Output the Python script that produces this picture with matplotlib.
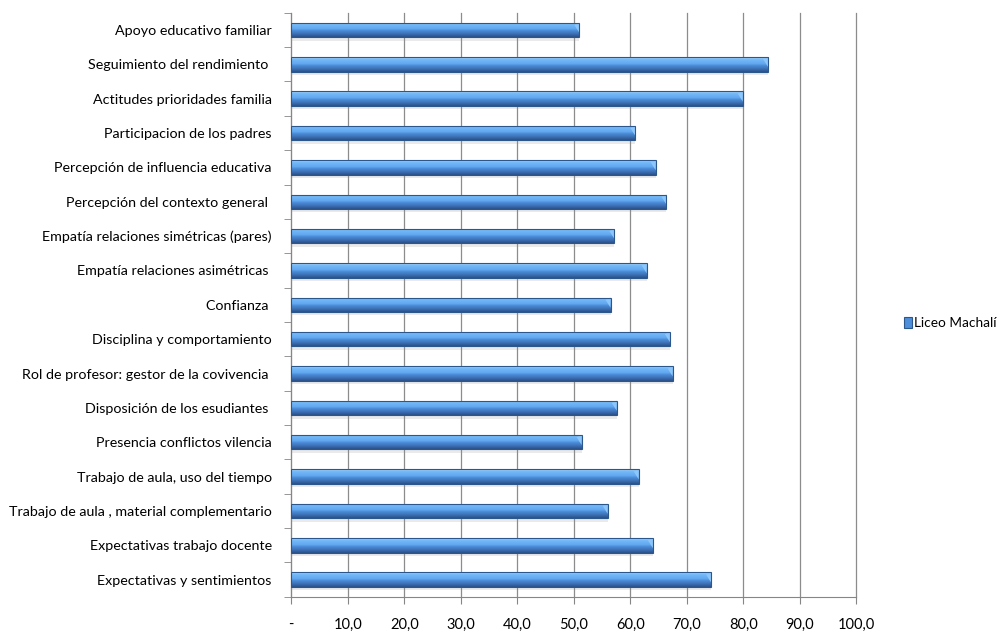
import numpy as np
import matplotlib
matplotlib.use('Agg')
import matplotlib.pyplot as plt
from matplotlib.colors import LinearSegmentedColormap
from matplotlib.patches import Patch

plt.rcParams['font.family'] = ['Lato', 'DejaVu Sans']

# categories from top to bottom, as in the chart
labels = ['Apoyo educativo familiar',
          'Seguimiento del rendimiento ',
          'Actitudes prioridades familia',
          'Participacion de los padres',
          'Percepción de influencia educativa',
          'Percepción del contexto general ',
          'Empatía relaciones simétricas (pares)',
          'Empatía relaciones asimétricas ',
          'Confianza ',
          'Disciplina y comportamiento',
          'Rol de profesor: gestor de la covivencia ',
          'Disposición de los esudiantes ',
          'Presencia conflictos vilencia',
          'Trabajo de aula, uso del tiempo',
          'Trabajo de aula , material complementario',
          'Expectativas trabajo docente',
          'Expectativas y sentimientos']
values = [51.0, 84.4, 79.9, 60.9, 64.5, 66.4, 57.2, 62.9, 56.5,
          67.0, 67.5, 57.6, 51.4, 61.5, 56.0, 64.0, 74.3]
series_name = 'Liceo Machalí'
xticks = [0, 10, 20, 30, 40, 50, 60, 70, 80, 90, 100]
xticklabels = ['-'] + ['%d,0' % t for t in xticks[1:]]

fig = plt.figure(figsize=(10.04, 6.39), dpi=100)
ax = fig.add_axes([0.290, 0.066, 0.563, 0.914])

y = np.arange(len(labels))[::-1]
h = 0.42

# soft shadow under the bars
ax.barh(y - 0.1, values, height=h, color='#909090', alpha=0.18, zorder=2, linewidth=0)

bars = ax.barh(y, values, height=h, color='none', edgecolor='#2c578c', linewidth=0.8, zorder=4)

# vertical gradient: dark at bottom, light on top
cmap = LinearSegmentedColormap.from_list('bev', [
    (0.0, '#2a5188'), (0.18, '#3a6cb0'), (0.45, '#4d8fdb'),
    (0.55, '#62a8f0'), (0.85, '#74b9f8'), (1.0, '#b0dcff')])
grad = np.linspace(0, 1, 64).reshape(-1, 1)
for b in bars:
    x0, y0 = b.get_x(), b.get_y()
    w, hh = b.get_width(), b.get_height()
    im = ax.imshow(grad, cmap=cmap, aspect='auto', origin='lower',
                   extent=(x0, x0 + w, y0, y0 + hh), zorder=3)
    im.set_clip_path(b)
    # bevel at the end of the bar
    ax.fill([x0 + w - 0.9, x0 + w, x0 + w], [y0 + hh * 0.85, y0 + hh * 0.3, y0 + hh],
            color='#8cc6fa', zorder=3.5, linewidth=0)

ax.set_xlim(0, 100)
ax.set_ylim(-0.5, len(labels) - 0.5)
ax.set_xticks(xticks)
ax.set_xticklabels(xticklabels, fontsize=10.5)
ax.set_yticks(y)
ax.set_yticklabels(labels, fontsize=10.3)
ax.set_yticks(np.arange(-0.5, len(labels), 1), minor=True)
ax.tick_params(axis='y', which='major', length=0, pad=14)
ax.tick_params(axis='y', which='minor', length=5, color='#868686')
ax.tick_params(axis='x', length=5, color='#868686', pad=10)

ax.grid(axis='x', color='#8c8c8c', linewidth=0.9, zorder=0)
for gl in ax.get_xgridlines():
    gl.set_clip_on(False)
ax.set_axisbelow(True)
for s in ['top', 'right']:
    ax.spines[s].set_visible(False)
ax.spines['left'].set_color('#868686')
ax.spines['bottom'].set_color('#868686')

handle = Patch(facecolor='#4d8fdb', edgecolor='#2c578c', linewidth=0.8)
fig.legend([handle], [series_name], loc='center left', bbox_to_anchor=(0.900, 0.495),
           frameon=False, fontsize=9.8, handlelength=0.6, handleheight=0.9,
           handletextpad=0.15, borderaxespad=0, borderpad=0)

fig.savefig('out.png', dpi=100)
